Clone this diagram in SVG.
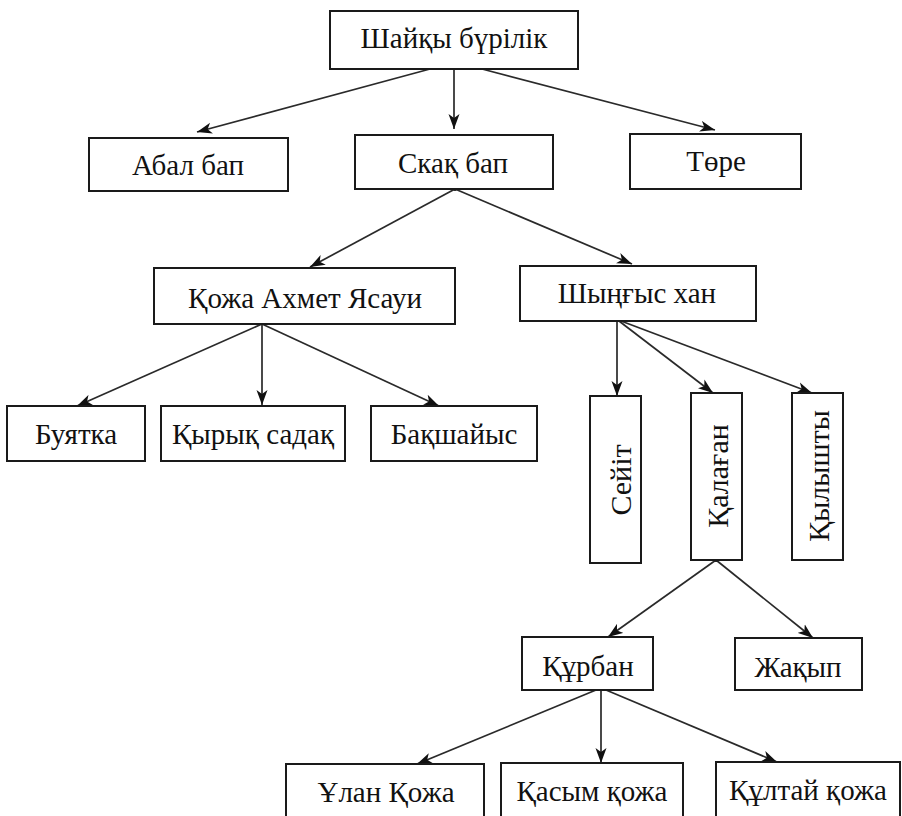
<svg xmlns="http://www.w3.org/2000/svg" width="902" height="816" viewBox="0 0 902 816">
<style>
.box{fill:#fff;stroke:#1a1a1a;stroke-width:2}
.t{font-family:"Liberation Serif","Times New Roman",serif;font-size:29px;fill:#111;text-anchor:middle}
.v{font-size:30px}
.c{stroke:#2a2a2a;stroke-width:1.7;fill:none;marker-end:url(#ah)}
</style>
<defs>
<marker id="ah" markerUnits="userSpaceOnUse" markerWidth="16" markerHeight="12" refX="15" refY="6" orient="auto">
<path d="M0,0.5 L15,6 L0,11.5 L4,6 z" fill="#111"/>
</marker>
</defs>
<g id="connectors">
<line class="c" x1="430" y1="69" x2="197" y2="132"/>
<line class="c" x1="454" y1="62" x2="454" y2="129"/>
<line class="c" x1="482" y1="69" x2="715" y2="130"/>
<line class="c" x1="455" y1="189" x2="310" y2="267"/>
<line class="c" x1="455" y1="189" x2="632" y2="264"/>
<line class="c" x1="262" y1="324" x2="77" y2="406"/>
<line class="c" x1="262" y1="318" x2="262" y2="405"/>
<line class="c" x1="262" y1="324" x2="439" y2="406"/>
<line class="c" x1="617" y1="320" x2="617" y2="396"/>
<line class="c" x1="619" y1="321" x2="713" y2="393"/>
<line class="c" x1="621" y1="321" x2="812" y2="393"/>
<line class="c" x1="716" y1="560" x2="608" y2="637"/>
<line class="c" x1="716" y1="560" x2="813" y2="638"/>
<line class="c" x1="596" y1="690" x2="417" y2="764"/>
<line class="c" x1="601" y1="682" x2="601" y2="763"/>
<line class="c" x1="606" y1="690" x2="777" y2="762"/>
<circle cx="455" cy="189" r="2" fill="#111"/>
<circle cx="617" cy="320" r="2" fill="#111"/>
<circle cx="716" cy="560" r="2" fill="#111"/>
</g>
<g id="n-shaiky"><rect class="box" x="330" y="11" width="248" height="58"/><text class="t" x="454" y="48">Шайқы бүрілік</text></g>
<g id="n-abal"><rect class="box" x="89" y="138" width="199" height="53"/><text class="t" x="188" y="175">Абал бап</text></g>
<g id="n-skak"><rect class="box" x="355" y="135" width="198" height="54"/><text class="t" x="453" y="173">Скақ бап</text></g>
<g id="n-tore"><rect class="box" x="630" y="134" width="171" height="55"/><text class="t" x="716" y="171">Төре</text></g>
<g id="n-kozha"><rect class="box" x="154" y="268" width="301" height="56"/><text class="t" x="305" y="308">Қожа Ахмет Ясауи</text></g>
<g id="n-shyngys"><rect class="box" x="520" y="266" width="236" height="55"/><text class="t" x="637" y="303">Шыңғыс хан</text></g>
<g id="n-buyatka"><rect class="box" x="7" y="406" width="138" height="55"/><text class="t" x="76" y="444">Буятка</text></g>
<g id="n-kyryk"><rect class="box" x="161" y="406" width="184" height="55"/><text class="t" x="253" y="444">Қырық садақ</text></g>
<g id="n-bakshaiys"><rect class="box" x="371" y="406" width="166" height="55"/><text class="t" x="454" y="444">Бақшайыс</text></g>
<g id="n-seit"><rect class="box" x="590" y="396" width="51" height="167"/><text class="t v" transform="translate(631,480) rotate(-90)">Сейіт</text></g>
<g id="n-kalagan"><rect class="box" x="691" y="393" width="51" height="167"/><text class="t v" transform="translate(728,476) rotate(-90)">Қалаған</text></g>
<g id="n-kylyshty"><rect class="box" x="792" y="393" width="51" height="167"/><text class="t v" transform="translate(829,476) rotate(-90)">Қылышты</text></g>
<g id="n-kurban"><rect class="box" x="522" y="637" width="131" height="53"/><text class="t" x="588" y="676">Құрбан</text></g>
<g id="n-zhakyp"><rect class="box" x="735" y="638" width="127" height="52"/><text class="t" x="798" y="677">Жақып</text></g>
<g id="n-ulan"><rect class="box" x="286" y="764" width="198" height="70"/><text class="t" x="386" y="802">Ұлан Қожа</text></g>
<g id="n-kasym"><rect class="box" x="501" y="763" width="182" height="70"/><text class="t" x="592" y="801">Қасым қожа</text></g>
<g id="n-kultai"><rect class="box" x="716" y="762" width="184" height="70"/><text class="t" x="808" y="800">Құлтай қожа</text></g>
</svg>
